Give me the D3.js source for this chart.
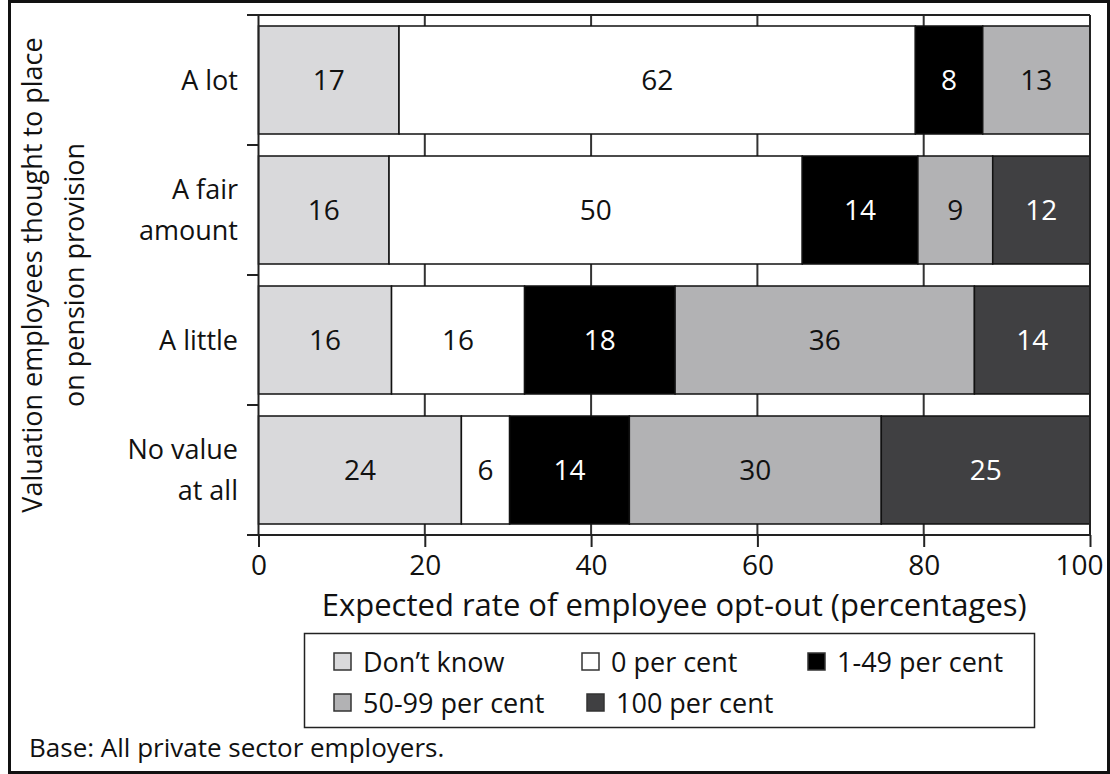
<!DOCTYPE html>
<html>
<head>
<meta charset="utf-8">
<script src="https://cdn.jsdelivr.net/npm/d3@7"></script>
<style>
  body { margin: 0; background: #fff; }
  svg text { font-family: "Open Sans", "Noto Sans", sans-serif; fill: #111; }
</style>
</head>
<body>
<svg id="chart"></svg>
<script>
// categories (top to bottom) and the display lines for each
const categories = ["A lot", "A fair amount", "A little", "No value at all"];
const categoryLines = [["A lot"], ["A fair", "amount"], ["A little"], ["No value", "at all"]];

// series, in stacking order
const seriesNames = ["Don\u2019t know", "0 per cent", "1-49 per cent", "50-99 per cent", "100 per cent"];
const seriesColors = ["#d9d9db", "#ffffff", "#000000", "#b2b2b4", "#404042"];
const labelColors = ["#111", "#111", "#fff", "#111", "#fff"];

// values (labels shown rounded)
const dontKnow = [16.9, 15.7, 16.0, 24.4];
const zeroPc = [62.1, 49.7, 16.0, 5.8];
const lowPc = [8.1, 13.9, 18.1, 14.4];
const highPc = [12.9, 9.0, 36.0, 30.3];
const allPc = [0, 11.7, 13.9, 25.1];

const xTicks = [0, 20, 40, 60, 80, 100];

const width = 1110;
const height = 774;

const svg = d3.select("#chart").attr("width", width).attr("height", height);

// outer frame
svg.append("rect")
  .attr("x", 9.5).attr("y", 1.5)
  .attr("width", width - 11).attr("height", height - 3)
  .attr("fill", "none").attr("stroke", "#111").attr("stroke-width", 3);

const x = d3.scaleLinear().domain([0, 100]).range([258.5, 1090]);
const y = d3.scaleBand()
  .domain(categories)
  .range([15, 535])
  .paddingInner(22 / 130)
  .paddingOuter(11 / 130);

const plotTop = 15, plotBottom = 535;

// build table for stacking
const table = categories.map((c, i) => ({
  cat: c,
  [seriesNames[0]]: dontKnow[i],
  [seriesNames[1]]: zeroPc[i],
  [seriesNames[2]]: lowPc[i],
  [seriesNames[3]]: highPc[i],
  [seriesNames[4]]: allPc[i]
}));
const stacked = d3.stack().keys(seriesNames)(table);

// vertical grid lines behind bars
svg.append("g")
  .selectAll("line")
  .data(xTicks.slice(1))
  .join("line")
  .attr("x1", d => x(d)).attr("x2", d => x(d))
  .attr("y1", plotTop).attr("y2", plotBottom)
  .attr("stroke", "#333").attr("stroke-width", 2);

// bars
const layers = svg.append("g")
  .selectAll("g")
  .data(stacked)
  .join("g")
  .attr("fill", (d, i) => seriesColors[i]);

layers.selectAll("rect")
  .data(d => d.filter(s => s[1] - s[0] > 0))
  .join("rect")
  .attr("x", d => x(d[0]))
  .attr("y", d => y(d.data.cat))
  .attr("width", d => x(d[1]) - x(d[0]))
  .attr("height", y.bandwidth())
  .attr("stroke", "#111")
  .attr("stroke-width", 1.5);

// value labels
layers.each(function (layer, i) {
  d3.select(this).selectAll("text")
    .data(layer.filter(s => s[1] - s[0] > 0))
    .join("text")
    .attr("x", d => (x(d[0]) + x(d[1])) / 2)
    .attr("y", d => y(d.data.cat) + y.bandwidth() / 2)
    .attr("dy", "0.36em")
    .attr("text-anchor", "middle")
    .style("font-size", "28px")
    .style("fill", labelColors[i])
    .text(d => Math.round(d[1] - d[0]));
});

// plot frame: top and right
svg.append("line")
  .attr("x1", 247).attr("x2", x(100))
  .attr("y1", plotTop).attr("y2", plotTop)
  .attr("stroke", "#222").attr("stroke-width", 2);
svg.append("line")
  .attr("x1", x(100)).attr("x2", x(100))
  .attr("y1", plotTop).attr("y2", plotBottom)
  .attr("stroke", "#222").attr("stroke-width", 2);

// x axis
const xAxis = svg.append("g")
  .attr("transform", `translate(0,${plotBottom})`)
  .call(d3.axisBottom(x).tickValues(xTicks).tickSize(12).tickPadding(8).tickFormat(d3.format("d")));
xAxis.select(".domain").remove();
xAxis.selectAll(".tick line").attr("stroke", "#222").attr("stroke-width", 2);
xAxis.selectAll(".tick text")
  .style("font-size", "28px")
  .style("font-family", "Open Sans")
  .attr("fill", "#111")
  .attr("dx", d => d === 100 ? -11 : 0);
svg.append("line")
  .attr("x1", 247).attr("x2", x(100))
  .attr("y1", plotBottom).attr("y2", plotBottom)
  .attr("stroke", "#222").attr("stroke-width", 2);

// y axis line and boundary ticks
svg.append("line")
  .attr("x1", x(0)).attr("x2", x(0))
  .attr("y1", plotTop).attr("y2", plotBottom)
  .attr("stroke", "#222").attr("stroke-width", 2);
const bounds = categories.map(c => y(c) - y.step() * y.paddingOuter()).concat([plotBottom]);
svg.append("g")
  .selectAll("line")
  .data(bounds)
  .join("line")
  .attr("x1", 247).attr("x2", x(0))
  .attr("y1", d => d).attr("y2", d => d)
  .attr("stroke", "#222").attr("stroke-width", 2);

// category labels
categories.forEach((c, i) => {
  const lines = categoryLines[i];
  const cy = y(c) + y.bandwidth() / 2;
  svg.append("text")
    .attr("text-anchor", "end")
    .style("font-size", "27px")
    .selectAll("tspan")
    .data(lines)
    .join("tspan")
    .attr("x", 238)
    .attr("y", (d, j) => cy + (j - (lines.length - 1) / 2) * 41)
    .attr("dy", "0.36em")
    .text(d => d);
});

// y axis title
const yTitle = svg.append("text")
  .attr("transform", `translate(0,${(plotTop + plotBottom) / 2}) rotate(-90)`)
  .attr("text-anchor", "middle")
  .style("font-size", "27px");
yTitle.append("tspan").attr("x", 0).attr("y", 42).text("Valuation employees thought to place");
yTitle.append("tspan").attr("x", 0).attr("y", 84).text("on pension provision");

// x axis title
svg.append("text")
  .attr("x", (x(0) + x(100)) / 2)
  .attr("y", 616)
  .attr("text-anchor", "middle")
  .style("font-size", "31px")
  .text("Expected rate of employee opt-out (percentages)");

// legend
const legend = svg.append("g");
legend.append("rect")
  .attr("x", 304.5).attr("y", 633.5)
  .attr("width", 730).attr("height", 94)
  .attr("fill", "#fff").attr("stroke", "#222").attr("stroke-width", 1.5);
const legendPos = [[334, 662], [582, 662], [808, 662], [334, 703], [587, 703]];
seriesNames.forEach((name, i) => {
  const [lx, ly] = legendPos[i];
  legend.append("rect")
    .attr("x", lx).attr("y", ly - 9)
    .attr("width", 17).attr("height", 17)
    .attr("fill", seriesColors[i])
    .attr("stroke", "#333").attr("stroke-width", 1.5);
  legend.append("text")
    .attr("x", lx + 29).attr("y", ly)
    .attr("dy", "0.36em")
    .style("font-size", "27px")
    .text(name);
});

// base note
svg.append("text")
  .attr("x", 29).attr("y", 757)
  .style("font-size", "26px")
  .text("Base: All private sector employers.");
</script>
</body>
</html>
